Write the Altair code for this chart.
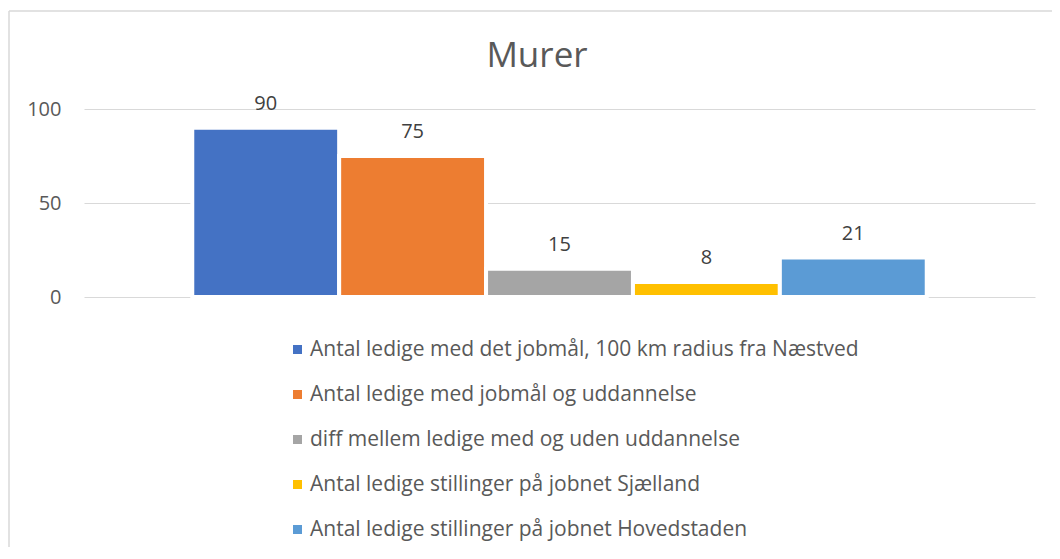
import altair as alt
import pandas as pd

series = [
    "Antal ledige med det jobmål, 100 km radius fra Næstved",
    "Antal ledige med jobmål og uddannelse",
    "diff mellem ledige med og uden uddannelse",
    "Antal ledige stillinger på jobnet Sjælland",
    "Antal ledige stillinger på jobnet Hovedstaden",
]
values = [90, 75, 15, 8, 21]
colors = ["#4472C4", "#ED7D31", "#A5A5A5", "#FFC000", "#5B9BD5"]
y_ticks = [0, 50, 100]
title = "Murer"

FONT = "Open Sans"

df = pd.DataFrame({"series": series, "value": values})

x_enc = alt.X(
    "series:N",
    sort=series,
    scale=alt.Scale(paddingInner=0, paddingOuter=0.737),
    axis=None,
)

bars = alt.Chart(df).mark_bar(stroke="white", strokeWidth=4).encode(
    x=x_enc,
    y=alt.Y(
        "value:Q",
        scale=alt.Scale(domain=[0, 100], nice=False),
        axis=alt.Axis(
            values=y_ticks,
            title=None,
            ticks=False,
            domain=False,
            labelPadding=23,
            labelFontSize=20,
            labelFont=FONT,
            labelColor="#595959",
            gridColor="#d9d9d9",
            gridWidth=1.2,
        ),
    ),
    color=alt.Color(
        "series:N",
        sort=series,
        scale=alt.Scale(domain=series, range=colors),
        legend=alt.Legend(
            title=None,
            orient="none",
            legendX=203,
            legendY=230,
            direction="vertical",
            symbolType="square",
            symbolSize=81,
            symbolStrokeWidth=0,
            labelFont=FONT,
            labelFontSize=21,
            labelColor="#595959",
            labelOffset=2,
            rowPadding=23,
            labelLimit=800,
            padding=0,
        ),
    ),
)

labels = alt.Chart(df).mark_text(
    baseline="alphabetic", dy=-18, fontSize=20, font=FONT, color="#404040"
).encode(
    x=x_enc,
    y=alt.Y("value:Q"),
    text=alt.Text("value:Q"),
)

frame_df = pd.DataFrame({"k": [0]})
frame_top = alt.Chart(frame_df).mark_rule(color="#d9d9d9", strokeWidth=1.5).encode(
    x=alt.value(-75), x2=alt.value(980), y=alt.value(-98)
)
frame_left = alt.Chart(frame_df).mark_rule(color="#d9d9d9", strokeWidth=1.5).encode(
    x=alt.value(-75), y=alt.value(-98), y2=alt.value(460)
)
title_mark = alt.Chart(frame_df).mark_text(
    text=title, font=FONT, fontSize=35, color="#595959",
    align="center", baseline="alphabetic",
).encode(x=alt.value(453), y=alt.value(-42))

chart = (
    alt.layer(frame_top, frame_left, title_mark, bars, labels)
    .properties(
        width=951,
        height=188,
        autosize=alt.AutoSizeParams(type="none"),
        padding={"left": 76, "top": 101, "right": 17, "bottom": 250},
    )
    .configure(background="white", view=alt.ViewConfig(stroke="transparent", strokeWidth=0))
)

chart.save("out.html", embed_options={"renderer": "svg", "actions": False})
